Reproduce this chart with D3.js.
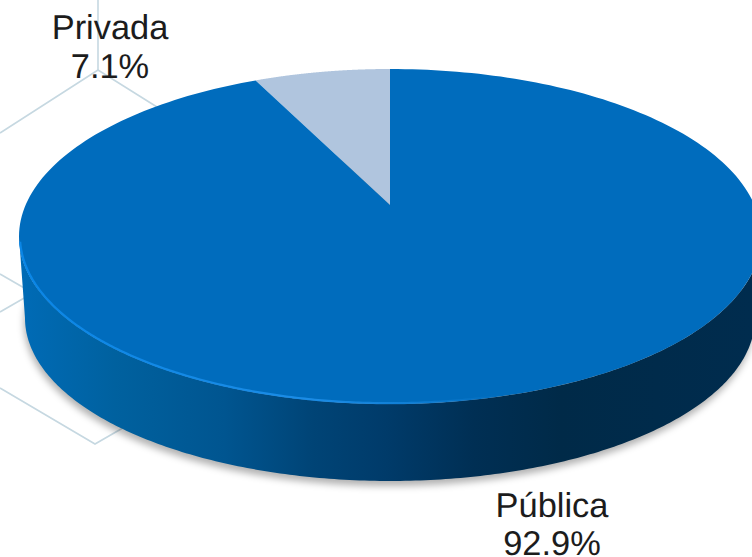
<!DOCTYPE html>
<html><head><meta charset="utf-8">
<script src="https://cdn.jsdelivr.net/npm/d3@7/dist/d3.min.js"></script>
<style>html,body{margin:0;padding:0;background:#fff;overflow:hidden}svg{display:block}
text{font-family:"Liberation Sans",Arial,sans-serif;font-size:34.4px;fill:#1c1c1c;text-anchor:middle;text-rendering:geometricPrecision}</style>
</head><body><svg id="c" width="752" height="557"></svg>
<script>
const categories = ["Privada", "Pública"];
const shares = [7.1, 92.9];
const shareLabels = ["7.1%", "92.9%"];
const sliceColors = ["#b0c5de", "#006cbd"];

const W = 752, H = 557;
const svg = d3.select("#c").attr("viewBox", [0, 0, W, H]);
const defs = svg.append("defs");

// Tilted-disc geometry: top face and bottom face of the 3D pie
const topFace = {cx: 390, cy: 236.5, rx: 371, ry: 167.5, k: -0.188};
const botFace = {cx: 390, cy: 318, rx: 365, ry: 163, k: -0.188};
// angle (clockwise from 12 o'clock) -> point on a disc, with perspective
const project = (f, a, r = 1) => {
  const x = r * Math.sin(a), y = -r * Math.cos(a), d = 1 + f.k * y;
  return [f.cx + f.rx * Math.sqrt(1 - f.k * f.k) * x / d, f.cy + f.ry * (y + f.k) / d];
};
const rimAngles = (a0, a1) => d3.range(0, 241).map(i => a0 + (a1 - a0) * i / 240);
const line = d3.line();
const color = d3.scaleOrdinal().domain(categories).range(sliceColors);
const turn = 2 * Math.PI;
const pie = d3.pie().sort(null)
  .startAngle(-turn * shares[0] / d3.sum(shares))
  .endAngle(turn - turn * shares[0] / d3.sum(shares));
const arcs = pie(shares);

// Backdrop wireframe
const wire = [
  [[98, 0], [98, 70]], [[0, 133], [98, 70], [157, 107]],
  [[0, 274], [26, 289]], [[26, 297], [0, 312]],
  [[0, 388], [95, 444], [128, 425]]
];
svg.append("g").selectAll("path").data(wire).join("path")
  .attr("d", line).attr("fill", "none").attr("stroke", "#c6d8e1").attr("stroke-width", 1.6);

// Shadow
const blur = defs.append("filter").attr("id", "blur")
  .attr("x", "-10%").attr("y", "-10%").attr("width", "120%").attr("height", "120%");
blur.append("feGaussianBlur").attr("stdDeviation", 3.5);
svg.append("path")
  .attr("d", line(rimAngles(0, turn).map(a => project(botFace, a))) + "Z")
  .attr("transform", "translate(-1,5)")
  .attr("fill", "#000").attr("fill-opacity", 0.3).attr("filter", "url(#blur)");

// Side wall: runs between the silhouette extremes of the two faces
const side = defs.append("linearGradient").attr("id", "side")
  .attr("gradientUnits", "userSpaceOnUse").attr("x1", 20).attr("x2", 752).attr("y1", 0).attr("y2", 0);
[[0, "#006bb6"], [0.13, "#00619f"], [0.28, "#005590"], [0.4, "#004476"], [0.5, "#003b6a"],
 [0.62, "#002f54"], [0.74, "#002a48"], [1, "#002c4e"]]
  .forEach(([o, c]) => side.append("stop").attr("offset", o).attr("stop-color", c));
const sideStart = Math.acos(topFace.k);
const sideSpan = rimAngles(sideStart, turn - sideStart);
const frontTop = sideSpan.map(a => project(topFace, a));
const frontBot = sideSpan.map(a => project(botFace, a)).reverse();
svg.append("path").attr("d", line(frontTop.concat(frontBot)) + "Z").attr("fill", "url(#side)");

// Top face slices
svg.append("g").selectAll("path").data(arcs).join("path")
  .attr("d", d => line([project(topFace, 0, 0)].concat(
      rimAngles(d.startAngle, d.endAngle).map(a => project(topFace, a)))) + "Z")
  .attr("fill", (d, i) => color(categories[i]));

// Rim highlight along the front-left edge
const glow = defs.append("linearGradient").attr("id", "glow")
  .attr("gradientUnits", "userSpaceOnUse").attr("x1", 19).attr("x2", 500).attr("y1", 0).attr("y2", 0);
[[0, "#0a86e6", 1], [0.6, "#1b8ce6", 1], [0.85, "#1b8ce6", 0.5], [1, "#1b8ce6", 0]]
  .forEach(([o, c, a]) => glow.append("stop").attr("offset", o).attr("stop-color", c).attr("stop-opacity", a));
svg.append("path")
  .attr("d", line(rimAngles(turn * 0.42, turn * 0.715).map(a => project({...topFace, rx: topFace.rx - 1, ry: topFace.ry - 0.8}, a))))
  .attr("fill", "none").attr("stroke", "url(#glow)").attr("stroke-width", 2.2);

// Labels
const labelSpots = [{x: 110, y1: 39, y2: 78}, {x: 552, y1: 517, y2: 555}];
const labels = svg.append("g").selectAll("g").data(categories).join("g");
labels.append("text").attr("x", (d, i) => labelSpots[i].x).attr("y", (d, i) => labelSpots[i].y1).text(d => d);
labels.append("text").attr("x", (d, i) => labelSpots[i].x).attr("y", (d, i) => labelSpots[i].y2).text((d, i) => shareLabels[i]);
</script></body></html>
